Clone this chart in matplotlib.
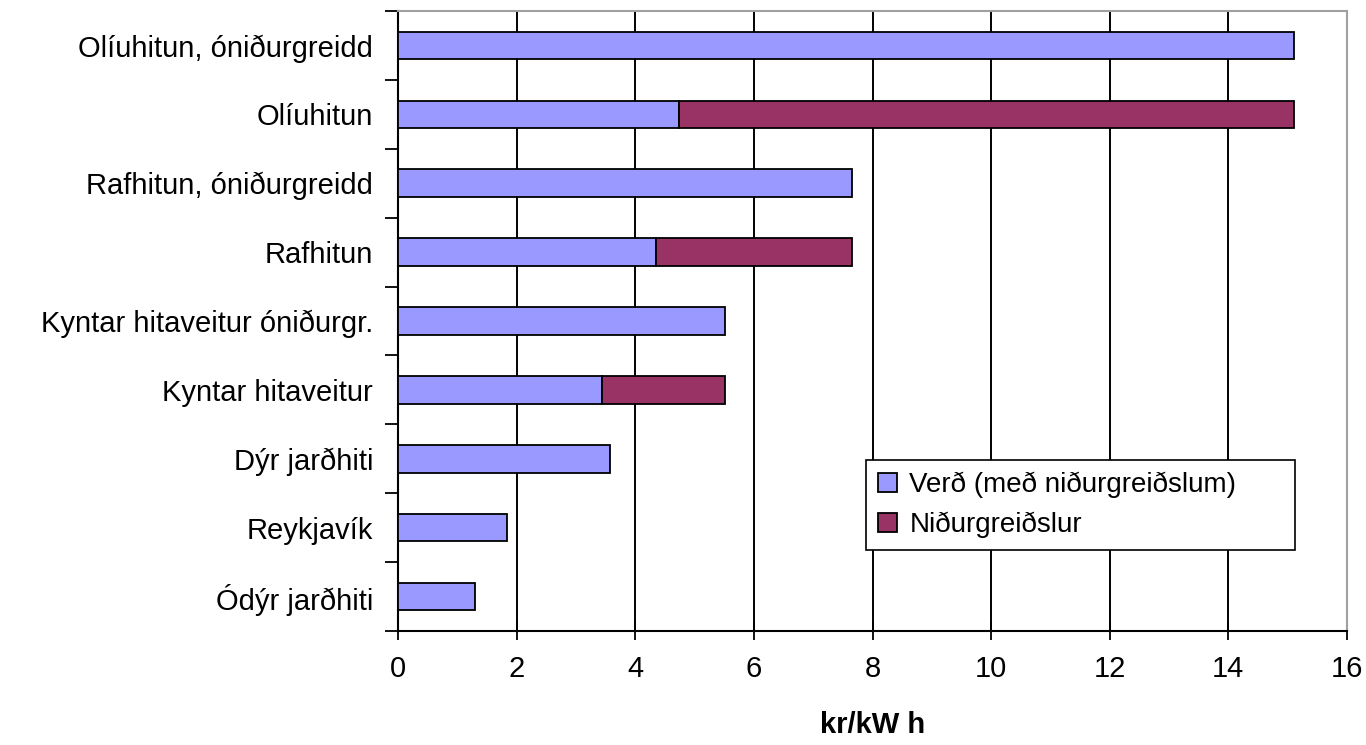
import matplotlib.pyplot as plt
import numpy as np

plt.rcParams.update(
    {
        "font.family": ["Liberation Sans", "DejaVu Sans"],
        "font.size": 21,
    }
)

# --- Data (top to bottom as in the chart) ---
categories = [
    "Olíuhitun, óniðurgreidd",
    "Olíuhitun",
    "Rafhitun, óniðurgreidd",
    "Rafhitun",
    "Kyntar hitaveitur óniðurgr.",
    "Kyntar hitaveitur",
    "Dýr jarðhiti",
    "Reykjavík",
    "Ódýr jarðhiti",
]
price = [15.11, 4.74, 7.66, 4.35, 5.52, 3.44, 3.58, 1.83, 1.30]
subsidy = [0.0, 10.37, 0.0, 3.31, 0.0, 2.08, 0.0, 0.0, 0.0]
xticks = [0, 2, 4, 6, 8, 10, 12, 14, 16]


def main():
    fig = plt.figure(figsize=(13.66, 7.45), dpi=100)
    ax = fig.add_axes([398 / 1366, 1 - 631 / 745, (1347 - 398) / 1366, (631 - 11) / 745])

    n = len(categories)
    y = np.arange(n)[::-1]
    ax.barh(y, price, height=0.4, color="#9999FF", edgecolor="black",
            linewidth=1.3, label="Verð (með niðurgreiðslum)", zorder=3)
    sub = np.array(subsidy)
    mask = sub > 0
    ax.barh(y[mask], sub[mask], left=np.array(price)[mask], height=0.4,
            color="#993366", edgecolor="black", linewidth=1.3,
            label="Niðurgreiðslur", zorder=3)

    ax.set_xlim(0, 16)
    ax.set_ylim(-0.5, n - 0.5)
    ax.set_xticks(xticks)
    ax.xaxis.grid(True, color="black", linewidth=1.4, zorder=0)
    ax.tick_params(axis="x", direction="inout", length=13, width=1.3, pad=11)

    # category labels sit between the boundary ticks
    ax.set_yticks(np.arange(-0.5, n, 1.0))
    ax.set_yticklabels([])
    ax.set_yticks(y, categories, minor=True)
    ax.tick_params(axis="y", which="major", direction="out", length=9.5, width=1.3)
    ax.tick_params(axis="y", which="minor", length=0, pad=18)

    for side in ["left", "bottom"]:
        ax.spines[side].set_linewidth(1.5)
    for side in ["top", "right"]:
        ax.spines[side].set_color("#a0a0a0")
        ax.spines[side].set_linewidth(1.5)

    ax.set_xlabel("kr/kW h", fontweight="bold", labelpad=20)

    # legend box spans the same area as in the original
    leg = ax.legend(loc="upper left", bbox_to_anchor=(0.493, 0.276, 0.452, 0.0),
                    mode="expand", fancybox=False, framealpha=1, edgecolor="black",
                    fontsize=20, handlelength=0.7, handleheight=0.7,
                    handletextpad=0.45, borderpad=0.42, labelspacing=0.5,
                    borderaxespad=0)
    leg.get_frame().set_linewidth(1.2)

    fig.savefig("out.png", dpi=100)


if __name__ == "__main__":
    main()
